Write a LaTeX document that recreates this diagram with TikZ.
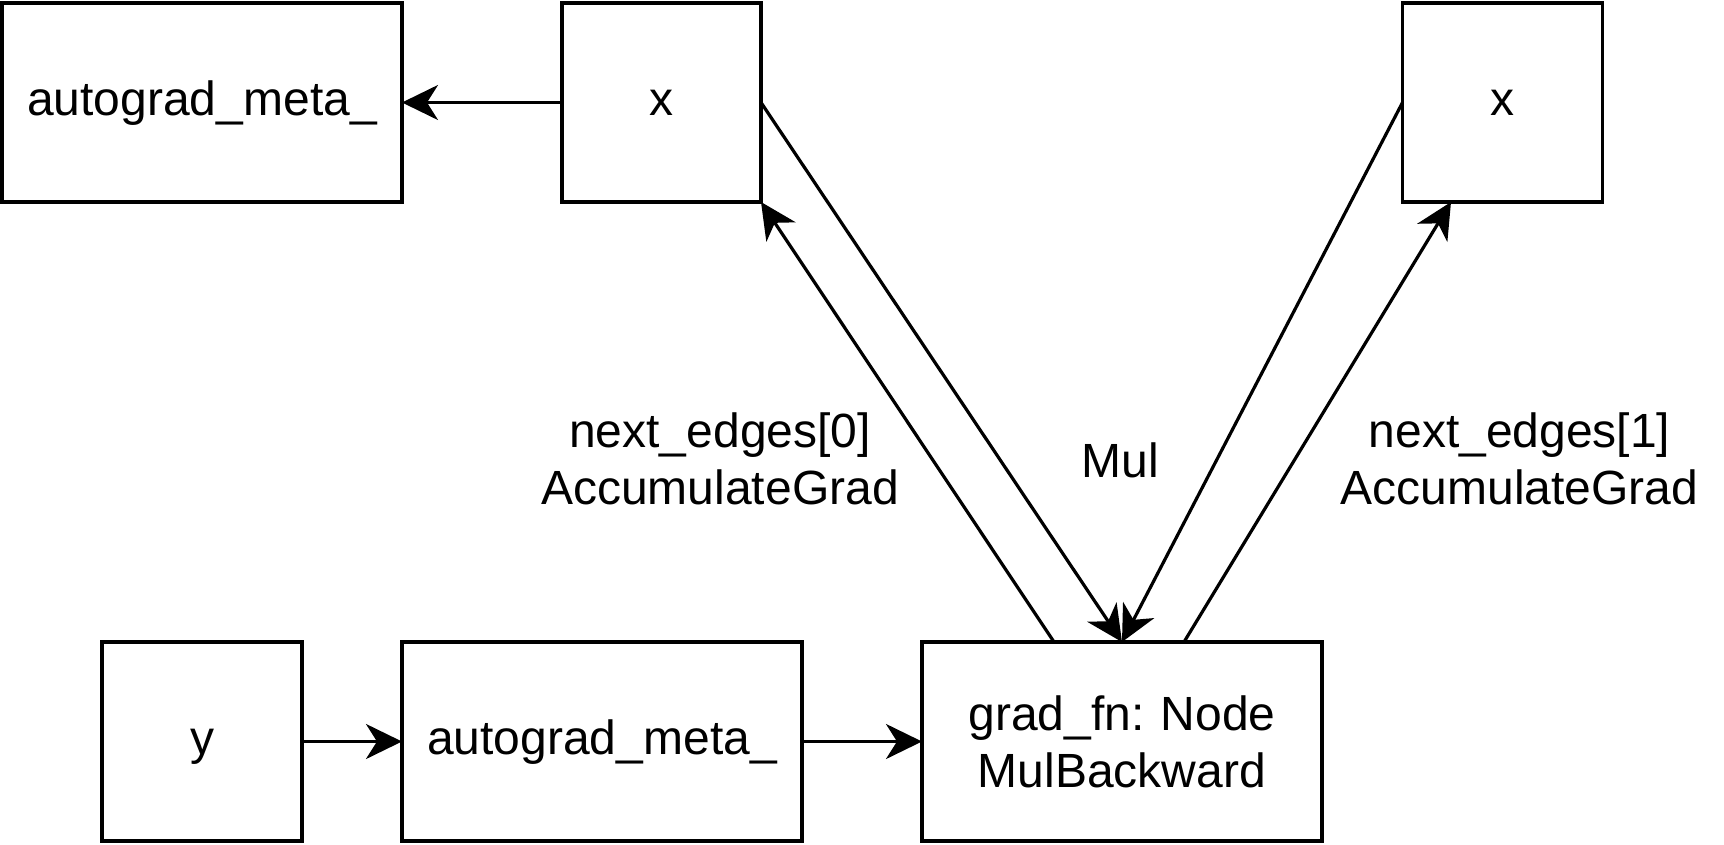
\documentclass[tikz,border=0pt]{standalone}
\usepackage{fontspec}
\setmainfont{Liberation Sans}
\usetikzlibrary{arrows.meta}
\frenchspacing
\begin{document}
\begin{tikzpicture}[x=1pt,y=-1pt,
  every node/.style={font=\fontsize{48}{57.6}\selectfont, inner sep=0pt, outer sep=0pt},
  box/.style={draw, line width=3.2pt, rectangle, minimum height=199pt, text height=35pt, text depth=10pt},
  wide/.style={box, minimum width=400pt},
  narrow/.style={box, minimum width=200pt},
  conn/.style={line width=3.2pt, -{Stealth[length=36pt,width=35pt,inset=11pt]}},
  lbl/.style={text width=400pt, align=center, anchor=base}
]
\useasboundingbox (0,0) rectangle (1724,844);
\node[wide]   (A1) at (202,102.5) {autograd\_meta\_};
\node[narrow, minimum width=199pt] (X1) at (661.5,102.5) {x};
\node[narrow] (X2) at (1502.5,102.5) {x};
\node[narrow] (Y)  at (202,741.5) {y};
\node[wide]   (A2) at (602,741.5) {autograd\_meta\_};
\node[wide, text width=390pt, align=center, text height=35pt, text depth=58pt] (G) at (1122,741.5) {grad\_fn: Node\\MulBackward};

\node[lbl] (L0) at (720,447) {next\_edges[0]\\AccumulateGrad};
\node[anchor=base] (M) at (1120,477) {Mul};
\node[lbl] (L1) at (1519.5,447) {next\_edges[1]\\AccumulateGrad};

\draw[conn] (X1.west) -- (A1.east);
\draw[conn] (Y.east) -- (A2.west);
\draw[conn] (A2.east) -- (G.west);
\draw[conn] (X1.east) -- (G.north);
\draw[conn] (X2.west) -- (G.north);
\draw[conn] ([xshift=-68pt]G.north) -- (X1.south east);
\draw[conn] ([xshift=62pt]G.north) -- ([xshift=-51.5pt]X2.south);
\end{tikzpicture}
\end{document}
